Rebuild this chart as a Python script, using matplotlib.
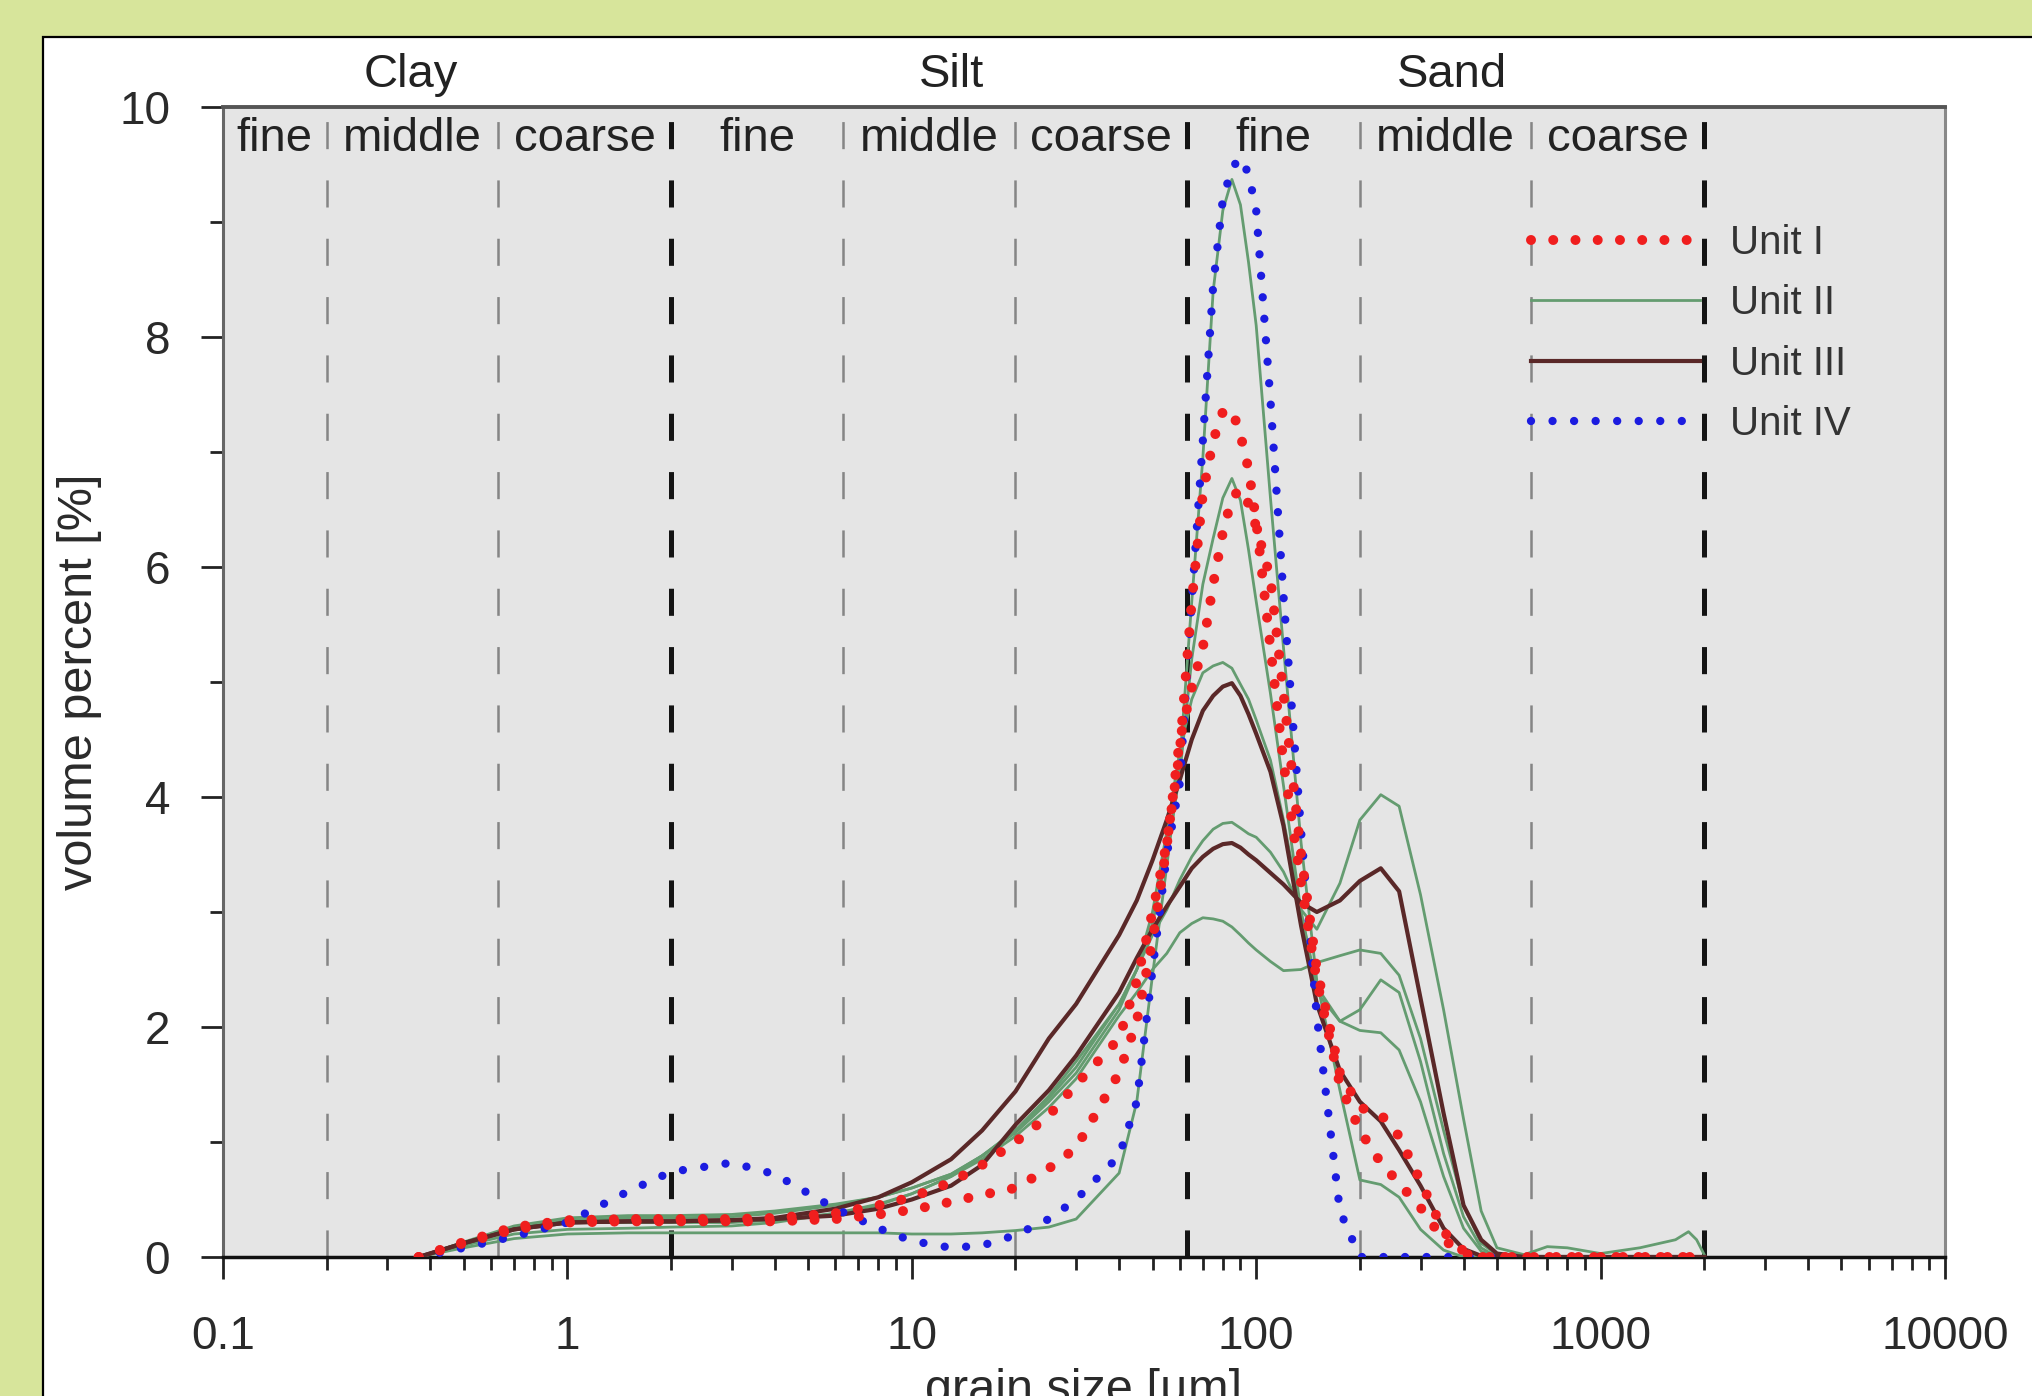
import numpy as np
import matplotlib
matplotlib.use("Agg")
import matplotlib.pyplot as plt
import matplotlib.transforms as mtransforms
from matplotlib.patches import Rectangle
from matplotlib.ticker import FixedLocator, FixedFormatter, LogLocator, NullFormatter

plt.rcParams['font.family'] = ['Liberation Sans', 'DejaVu Sans']
plt.rcParams['lines.scale_dashes'] = False

# grain size grid [um], shared by all curves
grain_size = [0.37, 0.5, 0.7, 1, 1.5, 2, 3, 4, 6, 8,
              10, 13, 16, 20, 25, 30, 40, 45, 50, 55,
              60, 65, 70, 75, 80, 85, 90, 95, 100, 110,
              120, 135, 150, 175, 200, 230, 260, 300, 350, 400,
              450, 500, 600, 700, 800, 1000, 1300, 1650, 1800, 1900, 2000]

ZERO_TAIL = [0.0] * 11

# Unit I (red dotted)
unit1 = [
    [0.0, 0.13, 0.26, 0.32, 0.33, 0.33, 0.33, 0.34, 0.38, 0.45,
     0.52, 0.65, 0.80, 1.00, 1.23, 1.50, 1.90, 2.40, 3.00, 3.60,
     4.40, 5.70, 6.64, 7.10, 7.35, 7.37, 7.15, 6.85, 6.40, 5.30,
     4.30, 3.25, 2.40, 1.50, 1.10, 0.82, 0.64, 0.43, 0.15, 0.03] + ZERO_TAIL,
    [0.0, 0.12, 0.24, 0.30, 0.31, 0.31, 0.31, 0.31, 0.33, 0.37,
     0.41, 0.48, 0.54, 0.60, 0.77, 0.95, 1.60, 2.05, 2.75, 3.58,
     4.50, 4.95, 5.30, 5.85, 6.30, 6.60, 6.68, 6.55, 6.35, 5.90,
     4.90, 3.50, 2.50, 1.60, 1.30, 1.24, 1.05, 0.66, 0.22, 0.05] + ZERO_TAIL,
]

# Unit II (green)
unit2 = [
    [0.0, 0.08, 0.16, 0.20, 0.21, 0.21, 0.21, 0.21, 0.21, 0.21,
     0.20, 0.20, 0.21, 0.23, 0.26, 0.33, 0.73, 1.35, 2.45, 3.40,
     4.30, 5.70, 6.95, 8.40, 9.10, 9.37, 9.15, 8.65, 8.10, 6.60,
     5.30, 3.60, 2.40, 1.45, 0.67, 0.63, 0.52, 0.24, 0.06, 0.0] + ZERO_TAIL,
    [0.0, 0.12, 0.25, 0.30, 0.30, 0.30, 0.30, 0.32, 0.38, 0.45,
     0.55, 0.70, 0.88, 1.10, 1.40, 1.70, 2.20, 2.50, 2.90, 3.50,
     4.20, 5.20, 5.85, 6.25, 6.60, 6.77, 6.58, 6.15, 5.70, 4.90,
     4.10, 3.00, 2.35, 2.05, 1.97, 1.95, 1.80, 1.35, 0.70, 0.25,
     0.05, 0.0, 0.0, 0.0, 0.0, 0.0, 0.0, 0.0, 0.0, 0.0, 0.0],
    [0.0, 0.13, 0.27, 0.34, 0.36, 0.36, 0.37, 0.40, 0.46, 0.52,
     0.60, 0.72, 0.88, 1.08, 1.35, 1.60, 2.15, 2.50, 3.00, 3.70,
     4.40, 4.85, 5.08, 5.14, 5.17, 5.12, 4.98, 4.85, 4.67, 4.32,
     3.80, 3.00, 2.30, 2.05, 2.15, 2.41, 2.30, 1.70, 0.90, 0.35,
     0.08, 0.0, 0.0, 0.0, 0.0, 0.0, 0.0, 0.0, 0.0, 0.0, 0.0],
    [0.0, 0.12, 0.25, 0.32, 0.34, 0.34, 0.35, 0.38, 0.45, 0.52,
     0.60, 0.72, 0.88, 1.10, 1.38, 1.65, 2.20, 2.50, 2.80, 3.02,
     3.28, 3.48, 3.62, 3.72, 3.77, 3.78, 3.73, 3.68, 3.65, 3.52,
     3.35, 3.02, 2.85, 3.25, 3.80, 4.02, 3.92, 3.15, 2.15, 1.20,
     0.40, 0.08, 0.02, 0.09, 0.08, 0.03, 0.08, 0.15, 0.22, 0.15, 0.02],
    [0.0, 0.10, 0.20, 0.24, 0.25, 0.26, 0.27, 0.30, 0.38, 0.46,
     0.55, 0.70, 0.85, 1.05, 1.30, 1.55, 2.10, 2.30, 2.50, 2.64,
     2.82, 2.90, 2.95, 2.94, 2.92, 2.87, 2.80, 2.73, 2.67, 2.57,
     2.49, 2.50, 2.56, 2.62, 2.67, 2.64, 2.45, 1.90, 1.10, 0.45,
     0.12, 0.02, 0.0, 0.0, 0.0, 0.0, 0.0, 0.0, 0.0, 0.0, 0.0],
]

# Unit III (dark brown)
unit3 = [
    [0.0, 0.12, 0.24, 0.30, 0.31, 0.31, 0.32, 0.34, 0.42, 0.52,
     0.65, 0.85, 1.10, 1.44, 1.90, 2.20, 2.80, 3.10, 3.45, 3.80,
     4.15, 4.50, 4.75, 4.88, 4.96, 4.99, 4.88, 4.72, 4.55, 4.22,
     3.75, 2.88, 2.20, 1.62, 1.35, 1.18, 0.93, 0.62, 0.25, 0.07,
     0.01, 0.0, 0.0, 0.0, 0.0, 0.0, 0.0, 0.0, 0.0, 0.0, 0.0],
    [0.0, 0.12, 0.24, 0.30, 0.31, 0.31, 0.32, 0.33, 0.36, 0.42,
     0.50, 0.62, 0.80, 1.15, 1.45, 1.75, 2.30, 2.60, 2.85, 3.05,
     3.22, 3.38, 3.48, 3.55, 3.59, 3.60, 3.56, 3.50, 3.45, 3.34,
     3.24, 3.08, 3.00, 3.10, 3.27, 3.38, 3.18, 2.25, 1.25, 0.45,
     0.15, 0.03, 0.0, 0.0, 0.0, 0.0, 0.0, 0.0, 0.0, 0.0, 0.0],
]

# Unit IV (blue dotted)
unit4 = [
    [0.0, 0.08, 0.18, 0.30, 0.57, 0.74, 0.82, 0.72, 0.42, 0.25,
     0.14, 0.08, 0.10, 0.19, 0.33, 0.50, 0.88, 1.35, 2.50, 3.50,
     4.12, 5.70, 7.10, 8.45, 9.20, 9.47, 9.56, 9.42, 9.10, 7.45,
     5.75, 3.70, 2.09, 0.40, 0.0, 0.0, 0.0, 0.0, 0.0, 0.0] + ZERO_TAIL,
]

unit_labels = ['Unit I', 'Unit II', 'Unit III', 'Unit IV']

# grain size classes
class_names = ['Clay', 'Silt', 'Sand']
class_label_x = [0.35, 13, 370]
sub_names = ['fine', 'middle', 'coarse'] * 3
class_edges = [0.1, 0.2, 0.63, 2, 6.3, 20, 63, 200, 630, 2000]
minor_bounds = [0.2, 0.63, 6.3, 20, 200, 630]
major_bounds = [2, 63, 2000]

x_ticks = [0.1, 1, 10, 100, 1000, 10000]
x_tick_labels = ['0.1', '1', '10', '100', '1000', '10000']
y_ticks = [0, 2, 4, 6, 8, 10]
y_minor_ticks = [1, 3, 5, 7, 9]

W, H = 2033, 1396
fig = plt.figure(figsize=(W / 100, H / 100), dpi=100, facecolor='#d7e59b')
fig.add_artist(Rectangle((43 / W, -0.05), 1.1, 1 - 37 / H + 0.05, transform=fig.transFigure,
                         facecolor='white', edgecolor='black', lw=1.6, zorder=-1))

ax = fig.add_axes([223 / W, 1 - 1257 / H, 1722 / W, 1150 / H])
ax.set_facecolor('#e5e5e5')
ax.set_xscale('log')
ax.set_xlim(0.1, 10000)
ax.set_ylim(0, 10)

dash = (0, (19.5, 22.5))
for b in minor_bounds:
    ax.axvline(b, color='#858585', lw=1.8, linestyle=dash, zorder=1)
for b in major_bounds:
    ax.axvline(b, color='#141414', lw=3.6, linestyle=dash, zorder=1)

handles = {}
for y in unit2:
    handles['Unit II'], = ax.plot(grain_size, y, color='#649c70', lw=2.0, zorder=3)
for y in unit3:
    handles['Unit III'], = ax.plot(grain_size, y, color='#5a2828', lw=3.0, zorder=4)
for y in unit4:
    handles['Unit IV'], = ax.plot(grain_size, y, color='#1c1ce0', lw=6.0, linestyle=(0, (0.01, 15.5)),
                                  dash_capstyle='round', zorder=5)
for y in unit1:
    handles['Unit I'], = ax.plot(grain_size, y, color='#f01e1e', lw=7.2, linestyle=(0, (0.01, 16.0)),
                                 dash_capstyle='round', zorder=6)

leg = ax.legend([handles[k] for k in unit_labels], unit_labels, loc='upper left',
                bbox_to_anchor=(0.7596, 0.898), frameon=False, fontsize=29, handlelength=4.2,
                handletextpad=0.75, labelspacing=0.55, borderpad=0, borderaxespad=0)
for t in leg.get_texts():
    t.set_color('#333333')

# class texts
trans = mtransforms.blended_transform_factory(ax.transData, ax.transAxes)
for name, x in zip(class_names, class_label_x):
    ax.text(x, 1.028, name, transform=trans, ha='center', va='center', fontsize=34, color='#222222')
for i, name in enumerate(sub_names):
    xc = np.sqrt(class_edges[i] * class_edges[i + 1])
    ax.text(xc, 0.972, name, transform=trans, ha='center', va='center', fontsize=34, color='#222222',
            zorder=7)

ax.xaxis.set_major_locator(FixedLocator(x_ticks))
ax.xaxis.set_major_formatter(FixedFormatter(x_tick_labels))
ax.xaxis.set_minor_locator(LogLocator(base=10, subs=np.arange(2, 10)))
ax.xaxis.set_minor_formatter(NullFormatter())
ax.set_yticks(y_ticks)
ax.set_yticks(y_minor_ticks, minor=True)
ax.tick_params(which='major', direction='out', length=16, width=2, color='#222222',
               labelsize=33, labelcolor='#2a2a2a')
ax.tick_params(which='minor', direction='out', length=9.5, width=2, color='#222222')
ax.tick_params(axis='x', which='major', pad=26)
ax.tick_params(axis='y', which='major', pad=22)

ax.spines['bottom'].set(color='#111111', lw=2.5)
ax.spines['left'].set(color='#666666', lw=2.2)
ax.spines['top'].set(color='#555555', lw=2.8)
ax.spines['right'].set(color='#888888', lw=2.2)

ax.set_xlabel('grain size [µm]', fontsize=35, color='#2a2a2a')
ax.set_ylabel('volume percent [%]', fontsize=35, color='#2a2a2a')
ax.xaxis.set_label_coords(0.5, -0.0965)
ax.yaxis.set_label_coords(-0.07, 0.5)

fig.savefig('out.png', dpi=100, facecolor=fig.get_facecolor())
